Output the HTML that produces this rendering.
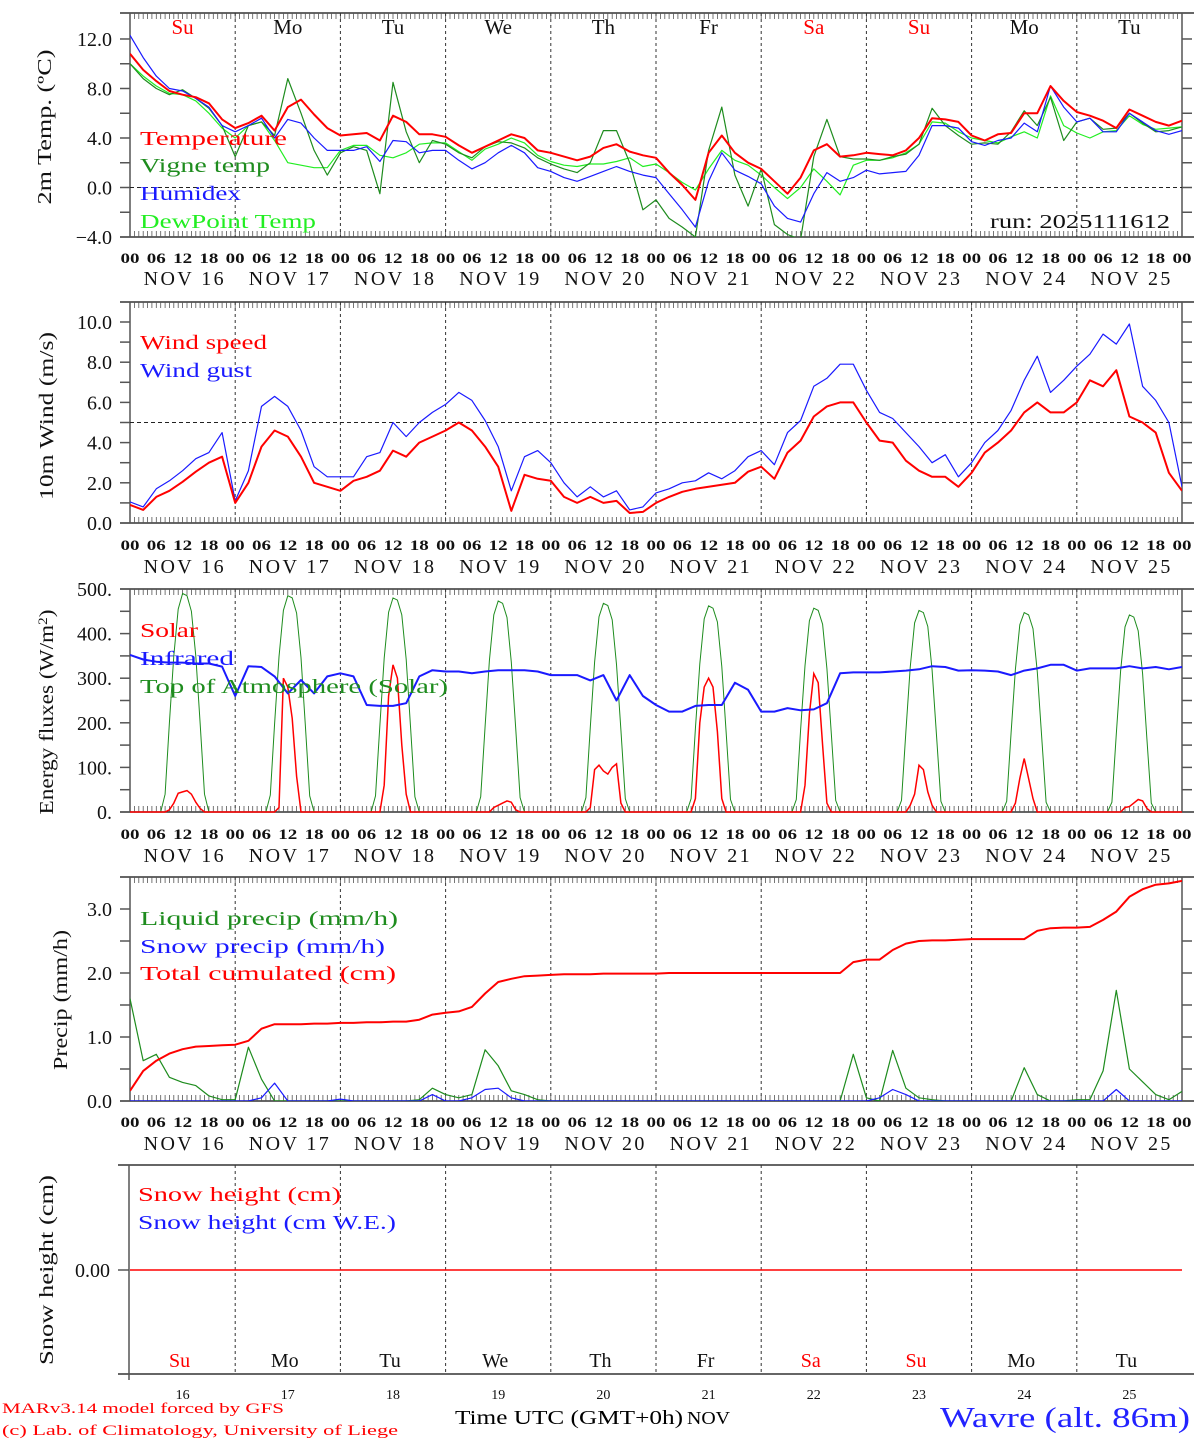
<!DOCTYPE html>
<html><head><meta charset="utf-8">
<style>
html,body{margin:0;padding:0;background:#fff;}
svg{display:block;font-family:"Liberation Serif",serif;}
</style></head>
<body>
<svg id="chart" width="1194" height="1440" viewBox="0 0 1194 1440" xmlns="http://www.w3.org/2000/svg">
<defs>
<clipPath id="c1"><rect x="130" y="13" width="1052" height="224"/></clipPath>
<clipPath id="c2"><rect x="130" y="302" width="1052" height="221"/></clipPath>
<clipPath id="c3"><rect x="130" y="589" width="1052" height="224"/></clipPath>
<clipPath id="c4"><rect x="130" y="877" width="1052" height="224"/></clipPath>
</defs>
<g id="g"></g>
<text x="2" y="1413" font-size="15" fill="#f00" textLength="282" lengthAdjust="spacingAndGlyphs">MARv3.14 model forced by GFS</text>
<text x="2" y="1435" font-size="15" fill="#f00" textLength="396" lengthAdjust="spacingAndGlyphs">(c) Lab. of Climatology, University of Liege</text>
<text x="455" y="1424" font-size="20" fill="#000" textLength="228" lengthAdjust="spacingAndGlyphs">Time UTC (GMT+0h)</text>
<text x="687" y="1424" font-size="18" fill="#000" textLength="43" lengthAdjust="spacingAndGlyphs">NOV</text>
<text x="940" y="1427" font-size="28" fill="#22f" textLength="250" lengthAdjust="spacingAndGlyphs">Wavre (alt. 86m)</text>
</svg>
<script>
// ---- data (3-hourly, 16 Nov 00UTC .. 26 Nov 00UTC) ----
const dayLabels = ["16","17","18","19","20","21","22","23","24","25"];
const dayNames = ["Su","Mo","Tu","We","Th","Fr","Sa","Su","Mo","Tu"];
const hourLabels = ["00","06","12","18"];
const temperature = [10.8,9.5,8.6,7.8,7.5,7.3,6.8,5.5, 4.8,5.2,5.8,4.6,6.5,7.1,5.9,4.8, 4.2,4.3,4.4,3.8,5.8,5.3,4.3,4.3, 4.1,3.4,2.8,3.3,3.8,4.3,4.0,3.0, 2.8,2.5,2.2,2.5,3.2,3.5,2.9,2.6, 2.4,1.2,0.2,-1.0,2.8,4.2,2.8,2.0, 1.5,0.5,-0.5,0.8,3.0,3.5,2.5,2.6, 2.8,2.7,2.6,3.0,4.0,5.6,5.5,5.3, 4.2,3.8,4.3,4.4,6.0,6.0,8.2,7.0, 6.1,5.8,5.4,4.8,6.3,5.8,5.3,5.0, 5.4];
const vigneTemp = [10.0,8.8,8.0,7.5,7.9,7.2,6.4,5.0, 2.5,5.0,5.3,4.2,8.8,6.0,3.0,1.0, 2.8,3.3,3.0,-0.5,8.5,4.5,2.0,3.8, 3.5,2.8,2.4,3.3,3.7,3.6,3.2,2.4, 1.9,1.5,1.2,2.0,4.6,4.6,2.0,-1.8, -1.0,-2.5,-3.2,-4.0,3.0,6.5,1.0,-1.5, 1.5,-3.0,-3.8,-4.2,2.5,5.5,2.5,2.3, 2.3,2.2,2.5,2.7,3.5,6.4,5.0,4.2, 3.5,3.6,3.5,4.5,6.2,5.0,7.3,3.8, 5.3,5.6,4.7,4.8,6.0,5.2,4.5,4.6, 4.9];
const humidex = [12.3,10.5,9.0,8.0,7.8,7.2,6.5,5.0, 4.5,5.0,5.6,4.0,5.5,5.2,4.0,3.0, 3.0,3.0,3.3,2.1,3.8,3.7,2.8,3.0, 3.0,2.2,1.5,2.0,2.8,3.4,2.8,1.6, 1.3,0.8,0.5,0.9,1.3,1.7,1.3,1.0, 0.8,-0.5,-1.8,-3.2,0.5,2.8,1.4,0.9, 0.3,-1.5,-2.5,-2.8,-0.5,1.2,0.5,0.8, 1.4,1.1,1.2,1.3,2.6,5.0,5.0,4.8, 3.7,3.4,3.8,4.0,5.2,4.5,8.2,6.5, 5.3,5.6,4.5,4.5,6.0,5.3,4.6,4.3, 4.6];
const dewPoint = [10.0,9.0,8.2,7.6,7.5,7.0,6.0,4.8, 4.0,5.0,5.3,3.8,2.0,1.8,1.6,1.6, 3.0,3.4,3.4,2.6,2.4,2.8,3.5,3.6, 3.6,2.9,2.2,3.1,3.5,4.0,3.6,2.6, 2.1,1.8,1.7,1.9,1.9,2.1,2.4,1.7, 1.9,1.2,0.4,-0.2,1.5,3.0,2.2,1.8, 1.0,0.0,-0.9,0.0,1.5,0.5,-0.6,1.8, 2.2,2.2,2.4,2.8,3.5,5.3,5.2,4.5, 4.0,3.8,3.6,4.1,4.5,4.0,7.4,5.0, 4.4,4.0,4.5,4.6,5.8,5.1,4.7,4.8, 4.9];
const windSpeed = [0.9,0.65,1.3,1.6,2.05,2.55,3.0,3.3, 1.0,2.0,3.8,4.6,4.3,3.3,2.0,1.8, 1.6,2.1,2.3,2.6,3.6,3.3,4.0,4.3, 4.6,5.0,4.6,3.8,2.8,0.6,2.4,2.2, 2.1,1.3,1.0,1.3,1.0,1.1,0.5,0.55, 1.0,1.3,1.55,1.7,1.8,1.9,2.0,2.55, 2.8,2.2,3.5,4.1,5.3,5.8,6.0,6.0, 5.0,4.1,4.0,3.1,2.6,2.3,2.3,1.8, 2.5,3.5,4.0,4.6,5.5,6.0,5.5,5.5, 6.0,7.1,6.8,7.6,5.3,5.0,4.5,2.5, 1.6];
const windGust = [1.05,0.8,1.7,2.1,2.6,3.2,3.5,4.5, 1.1,2.6,5.8,6.3,5.8,4.6,2.8,2.3, 2.3,2.3,3.3,3.5,5.0,4.3,5.0,5.5, 5.9,6.5,6.1,5.1,3.8,1.6,3.3,3.6, 3.0,2.0,1.3,1.8,1.3,1.6,0.65,0.8, 1.5,1.7,2.0,2.1,2.5,2.2,2.6,3.3, 3.6,2.9,4.5,5.1,6.8,7.2,7.9,7.9, 6.6,5.5,5.2,4.5,3.8,3.0,3.4,2.3, 3.0,4.0,4.6,5.6,7.1,8.3,6.5,7.1, 7.8,8.4,9.4,8.9,9.9,6.8,6.1,5.0, 1.8];
const infrared = [352,342,337,335,335,333,333,326, 260,327,325,304,266,296,266,304, 311,304,240,238,238,244,304,318, 315,315,311,315,318,318,318,315, 307,307,307,295,307,250,307,260, 240,225,225,238,240,240,290,274, 225,225,233,228,230,244,311,313, 313,313,315,317,320,327,325,317, 318,317,315,307,317,322,330,330, 317,322,322,322,327,322,325,320, 325];
// hourly daytime values, hours 07..18 for each day
const solarDaytime = [
 [0,0,5,20,42,45,48,40,22,8,0,0],
 [0,0,0,10,300,280,210,80,0,0,0,0],
 [0,0,0,60,260,330,300,150,40,0,0,0],
 [0,0,0,0,10,15,20,25,22,5,0,0],
 [0,0,10,95,105,92,85,100,108,20,0,0],
 [0,0,30,200,280,300,280,180,30,0,0,0],
 [0,0,0,60,220,310,290,150,20,0,0,0],
 [0,0,0,15,40,105,95,45,15,0,0,0],
 [0,0,0,20,75,120,75,30,0,0,0,0],
 [0,0,0,0,10,12,20,28,25,8,0,0]];
const toaDaytime = [
 [0,40,200,350,455,490,485,450,350,200,40,0],
 [0,38,198,348,452,485,480,446,346,196,36,0],
 [0,36,195,345,448,480,475,442,342,192,34,0],
 [0,34,192,340,442,473,468,436,336,188,32,0],
 [0,32,190,336,438,468,463,431,331,184,30,0],
 [0,30,187,332,433,462,457,426,326,180,28,0],
 [0,28,184,328,429,457,452,421,322,176,26,0],
 [0,26,181,324,424,452,447,416,318,172,24,0],
 [0,24,178,320,420,447,442,411,314,168,22,0],
 [0,22,175,316,415,442,437,406,310,164,20,0]];
const liquidPrecip = [1.6,0.63,0.73,0.37,0.29,0.24,0.08,0.02, 0.02,0.84,0.34,0,0,0,0,0, 0,0,0,0,0,0,0.02,0.2, 0.1,0.05,0.1,0.8,0.55,0.16,0.1,0.02, 0,0,0,0,0,0,0,0, 0,0,0,0,0,0,0,0, 0,0,0,0,0,0,0,0.73, 0.05,0,0.79,0.2,0.05,0.02,0,0, 0,0,0,0,0.52,0.1,0,0, 0.02,0.02,0.47,1.73,0.5,0.3,0.1,0.02, 0.15];
const snowPrecip = [0,0,0,0,0,0,0,0, 0,0,0.05,0.28,0,0,0,0, 0.03,0,0,0,0,0,0,0.1, 0,0,0.05,0.18,0.2,0.05,0,0, 0,0,0,0,0,0,0,0, 0,0,0,0,0,0,0,0, 0,0,0,0,0,0,0,0, 0,0.05,0.18,0.1,0,0,0,0, 0,0,0,0,0,0,0,0, 0,0,0,0.18,0,0,0,0, 0];
const totalCumulated = [0.16,0.47,0.63,0.74,0.81,0.85,0.86,0.87, 0.88,0.94,1.13,1.2,1.2,1.2,1.21,1.21, 1.22,1.22,1.23,1.23,1.24,1.24,1.27,1.35, 1.38,1.4,1.47,1.68,1.86,1.91,1.95,1.96, 1.97,1.98,1.98,1.98,1.99,1.99,1.99,1.99, 1.99,2.0,2.0,2.0,2.0,2.0,2.0,2.0, 2.0,2.0,2.0,2.0,2.0,2.0,2.0,2.17, 2.21,2.21,2.36,2.46,2.5,2.51,2.51,2.52, 2.53,2.53,2.53,2.53,2.53,2.66,2.7,2.71, 2.71,2.72,2.83,2.96,3.19,3.31,3.38,3.40, 3.44];
const snowHeight = [0,0,0,0,0,0,0,0,0,0,0];
const tempTicks = [12,8,4,0,-4];
const windTicks = [10,8,6,4,2,0];
const fluxTicks = [500,400,300,200,100,0];
const precipTicks = [3,2,1,0];

// ---- rendering ----
const NS = "http://www.w3.org/2000/svg";
const G = document.getElementById("g");
const X0 = 130, X1 = 1182;
function X(h){ return X0 + h/240*(X1-X0); }
function mk(tag, attrs, parent){
  const e = document.createElementNS(NS, tag);
  for (const k in attrs) e.setAttribute(k, attrs[k]);
  (parent||G).appendChild(e); return e;
}
function yScale(vmin, vmax, ytop, ybot){ return v => ybot - (v - vmin)/(vmax - vmin)*(ybot - ytop); }
const AX = "#333";
const redDay = {Su:1, Sa:1};

function frame(top, bot, name, hourTicks){
  const f = mk("g", {});
  
  
  mk("line", {x1:120, y1:top, x2:1194, y2:top, stroke:AX, "stroke-width":1.5}, f);
  mk("line", {x1:120, y1:bot, x2:1194, y2:bot, stroke:AX, "stroke-width":1.5}, f);
  mk("line", {x1:X0, y1:top, x2:X0, y2:bot, stroke:"#555", "stroke-width":1.5}, f);
  mk("line", {x1:X1, y1:top, x2:X1, y2:bot, stroke:"#555", "stroke-width":1.5}, f);
  if (hourTicks){
    let d = "";
    for (let h=0; h<=240; h++){ const x = X(h).toFixed(1); d += `M${x} ${top}v6M${x} ${bot}v-6`; }
    mk("path", {d:d, stroke:"#555", "stroke-width":0.8}, f);
  }
  for (let i=1; i<10; i++){
    const l = mk("line", {x1:X(i*24), y1:top, x2:X(i*24), y2:bot, stroke:"#333", "stroke-width":1, "stroke-dasharray":"3,3"}, f);
    
    
  }
}
function yAxis(ticks, labels, ys, minor, name){
  const g = mk("g", {});
  
  
  minor.forEach(v => {
    mk("line", {x1:120, y1:ys(v), x2:X0, y2:ys(v), stroke:"#555", "stroke-width":1.5}, g);
    mk("line", {x1:X1, y1:ys(v), x2:1192, y2:ys(v), stroke:"#555", "stroke-width":1.5}, g);
  });
  ticks.forEach((v,i) => {
    const t = mk("text", {x:112, y:ys(v)+7, "font-size":20, "text-anchor":"end", fill:"#111"}, g);
    t.textContent = labels[i];
  });
}
function hourAxis(y1, y2){
  const g = mk("g", {});
  
  
  for (let h=0; h<=240; h+=6){
    const t = mk("text", {x:X(h)-9.5, y:y1, "font-size":15, fill:"#111", textLength:19, lengthAdjust:"spacingAndGlyphs", "font-weight":"bold"}, g);
    t.textContent = hourLabels[(h/6)%4];
  }
  dayLabels.forEach((d,i) => {
    const t = mk("text", {x:X(i*24+12)-39, y:y2, "font-size":20, fill:"#111", textLength:80, lengthAdjust:"spacing"}, g);
    t.textContent = "NOV " + d;
  });
}
function yTitle(txt, x, y, name, len){
  const t = mk("text", {x:x, y:y, "font-size":20, "text-anchor":"middle", fill:"#111", transform:`rotate(-90 ${x} ${y})`});
  if (len){ t.setAttribute("textLength", len); t.setAttribute("lengthAdjust", "spacingAndGlyphs"); }
  t.textContent = txt;
  
  
  return t;
}
function legend(txt, x, y, color, w, name){
  const t = mk("text", {x:x, y:y, "font-size":20, fill:color, textLength:w, lengthAdjust:"spacingAndGlyphs"});
  t.textContent = txt;
  
  
}
function series3h(vals, ys, color, w, clip, name){
  const pts = vals.map((v,i) => X(i*3).toFixed(1) + "," + ys(v).toFixed(1)).join(" ");
  const p = mk("polyline", {points:pts, fill:"none", stroke:color, "stroke-width":w, "stroke-linejoin":"round", "clip-path":`url(#${clip})`});
  
  
}
function seriesDaytime(days, ys, color, w, clip, name){
  const pts = [];
  pts.push(X(0)+","+ys(0));
  days.forEach((arr, d) => {
    arr.forEach((v, k) => pts.push(X(d*24+7+k).toFixed(1) + "," + ys(v).toFixed(1)));
  });
  pts.push(X(240)+","+ys(0));
  const p = mk("polyline", {points:pts.join(" "), fill:"none", stroke:color, "stroke-width":w, "clip-path":`url(#${clip})`});
  
  
}

// Panel 1: temperature
const y1 = yScale(-4, 14.1, 13, 237);
frame(13, 237, "temperature-panel", true);
yAxis(tempTicks, ["12.0","8.0","4.0","0.0","\u22124.0"], y1, [12,10,8,6,4,2,0,-2,-4], "temperature-y-axis");
mk("line", {x1:X0, y1:y1(0), x2:X1, y2:y1(0), stroke:"#222", "stroke-dasharray":"4,3"});
dayNames.forEach((n,i) => {
  const t = mk("text", {x:X(i*24+12), y:34, "font-size":21, "text-anchor":"middle", fill: redDay[n] ? "#f00" : "#111"});
  t.textContent = n;
  
  
});
series3h(dewPoint, y1, "#22ee22", 1.2, "c1", "dewpoint-line");
series3h(vigneTemp, y1, "#1e8c1e", 1.2, "c1", "vigne-temp-line");
series3h(humidex, y1, "#1a1aff", 1.2, "c1", "humidex-line");
series3h(temperature, y1, "#ff0000", 2, "c1", "temperature-line");
legend("Temperature", 140, 145, "#f00", 147, "legend-temperature");
legend("Vigne temp", 140, 172, "#1e8c1e", 130, "legend-vigne-temp");
legend("Humidex", 140, 200, "#1a1aff", 101, "legend-humidex");
legend("DewPoint Temp", 140, 228, "#22ee22", 176, "legend-dewpoint");
legend("run: 2025111612", 990, 228, "#111", 180, "run-label");
yTitle("2m Temp. (\u00baC)", 51, 127, "temperature-y-title", 155);
hourAxis(263, 285);

// Panel 2: wind
const y2 = yScale(0, 10, 322, 523);
frame(302, 523, "wind-panel", true);
yAxis(windTicks, ["10.0","8.0","6.0","4.0","2.0","0.0"], y2, [10,9,8,7,6,5,4,3,2,1,0], "wind-y-axis");
mk("line", {x1:X0, y1:y2(5), x2:X1, y2:y2(5), stroke:"#222", "stroke-dasharray":"4,3"});
series3h(windGust, y2, "#1a1aff", 1.2, "c2", "wind-gust-line");
series3h(windSpeed, y2, "#ff0000", 2, "c2", "wind-speed-line");
legend("Wind speed", 140, 349, "#f00", 127, "legend-wind-speed");
legend("Wind gust", 140, 377, "#1a1aff", 112, "legend-wind-gust");
yTitle("10m Wind (m/s)", 53, 416, "wind-y-title", 168);
hourAxis(550, 573);

// Panel 3: energy fluxes
const y3 = yScale(0, 500, 589, 812);
frame(589, 812, "energy-panel", true);
yAxis(fluxTicks, ["500.","400.","300.","200.","100.","0."], y3, [500,450,400,350,300,250,200,150,100,50,0], "energy-y-axis");
seriesDaytime(toaDaytime, y3, "#1e8c1e", 1, "c3", "toa-solar-line");
seriesDaytime(solarDaytime, y3, "#ff0000", 1.5, "c3", "solar-line");
series3h(infrared, y3, "#1a1aff", 2, "c3", "infrared-line");
legend("Solar", 140, 637, "#f00", 58, "legend-solar");
legend("Infrared", 140, 665, "#1a1aff", 94, "legend-infrared");
legend("Top of Atmosphere (Solar)", 140, 693, "#1e8c1e", 308, "legend-toa");
const et = yTitle("Energy fluxes (W/m", 53, 712, "energy-y-title", 205);
const sup = mk("tspan", {dy:-6, "font-size":13}, et); sup.textContent = "2";
const cl = mk("tspan", {dy:6}, et); cl.textContent = ")";
hourAxis(839, 862);

// Panel 4: precip
const y4 = yScale(0, 3, 909, 1101);
frame(877, 1101, "precip-panel", true);
yAxis(precipTicks, ["3.0","2.0","1.0","0.0"], y4, [3,2.5,2,1.5,1,0.5,0], "precip-y-axis");
series3h(liquidPrecip, y4, "#1e8c1e", 1.2, "c4", "liquid-precip-line");
series3h(snowPrecip, y4, "#1a1aff", 1.2, "c4", "snow-precip-line");
series3h(totalCumulated, y4, "#ff0000", 2, "c4", "total-cumulated-line");
legend("Liquid precip (mm/h)", 140, 925, "#1e8c1e", 258, "legend-liquid-precip");
legend("Snow precip (mm/h)", 140, 953, "#1a1aff", 245, "legend-snow-precip");
legend("Total cumulated (cm)", 140, 980, "#f00", 256, "legend-total-cumulated");
yTitle("Precip (mm/h)", 67, 1000, "precip-y-title", 140);
hourAxis(1127, 1150);

// Panel 5: snow height
const y5 = v => 1270 - v*100;
const f5 = mk("g", {});


mk("line", {x1:118, y1:1165, x2:1194, y2:1165, stroke:AX, "stroke-width":1.5}, f5);
mk("line", {x1:118, y1:1374, x2:1194, y2:1374, stroke:AX, "stroke-width":1.5}, f5);
mk("line", {x1:129, y1:1165, x2:129, y2:1380, stroke:"#555", "stroke-width":1.5}, f5);
mk("line", {x1:118, y1:1270, x2:129, y2:1270, stroke:"#555", "stroke-width":1.5}, f5);
for (let i=1; i<10; i++){
  const l = mk("line", {x1:X(i*24), y1:1165, x2:X(i*24), y2:1374, stroke:"#333", "stroke-dasharray":"3,3"}, f5);
  
  
}
const zl = mk("text", {x:110, y:1277, "font-size":20, "text-anchor":"end", fill:"#111"});
zl.textContent = "0.00";
const sh = mk("polyline", {points: snowHeight.map((v,i) => X(i*24).toFixed(1)+","+y5(v)).join(" "), fill:"none", stroke:"#f00", "stroke-width":1.5});


dayNames.forEach((n,i) => {
  const t = mk("text", {x:X(i*24+12)-3, y:1367, "font-size":20, "text-anchor":"middle", fill: redDay[n] ? "#f00" : "#111"});
  t.textContent = n;
  
  
  const d = mk("text", {x:X(i*24+12), y:1399, "font-size":14, "text-anchor":"middle", fill:"#111"});
  d.textContent = dayLabels[i];
  
  
});
legend("Snow height (cm)", 138, 1201, "#f00", 203, "legend-snow-height");
legend("Snow height (cm W.E.)", 138, 1229, "#1a1aff", 258, "legend-snow-height-we");
yTitle("Snow height (cm)", 53, 1270, "snow-y-title", 190);
</script>
</body></html>
